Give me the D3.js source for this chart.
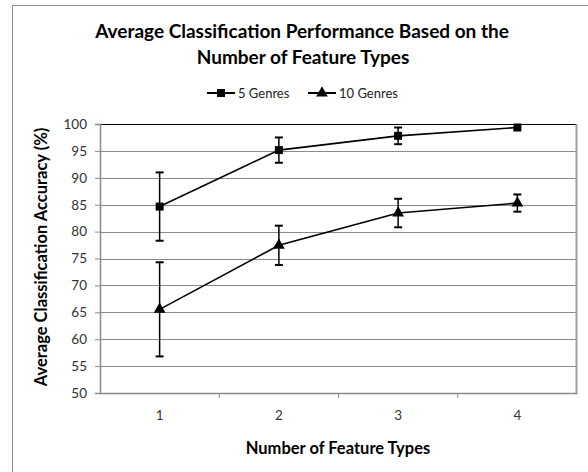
<!DOCTYPE html>
<html>
<head>
  <script src="https://d3js.org/d3.v7.min.js"></script>
  <style>
    body { margin: 0; background: #fff; }
    svg text { font-family: Lato, "Open Sans", sans-serif; fill: #000; }
    .title { font-size: 19px; font-weight: bold; text-anchor: middle; }
    .axis-title { font-size: 16.5px; font-weight: bold; text-anchor: middle; }
    .tick-label { font-size: 13.5px; fill: #333; }
    .legend-label { font-size: 13px; fill: #222; }
  </style>
</head>
<body>
  <div id="chart"></div>
  <script>
    // values
    const categories = ["1", "2", "3", "4"];
    const yTicks = [50, 55, 60, 65, 70, 75, 80, 85, 90, 95, 100];
    const genres5 = [84.65, 95.15, 97.8, 99.35];
    const genres5Err = [6.35, 2.35, 1.55, 0];
    const genres10 = [65.55, 77.45, 83.45, 85.3];
    const genres10Err = [8.75, 3.65, 2.65, 1.6];

    const series = [
      { name: "5 Genres", values: genres5, err: genres5Err, marker: d3.symbolSquare, size: 64 },
      { name: "10 Genres", values: genres10, err: genres10Err, marker: d3.symbolTriangle, size: 60 }
    ];

    const width = 588, height = 472;
    const margin = { top: 124, right: 11, bottom: 79, left: 100 };
    const innerW = width - margin.left - margin.right;
    const innerH = height - margin.top - margin.bottom;

    const svg = d3.select("#chart").append("svg")
      .attr("width", width)
      .attr("height", height);

    // outer chart frame
    svg.append("rect")
      .attr("x", 12.5).attr("y", 5.5)
      .attr("width", 590).attr("height", 480)
      .attr("fill", "none").attr("stroke", "#8c8c8c");

    const g = svg.append("g").attr("transform", `translate(${margin.left},${margin.top})`);

    const x = d3.scaleBand().domain(categories).range([0, innerW]);
    const y = d3.scaleLinear().domain([50, 100]).range([innerH, 0]);

    // gridlines
    g.selectAll(".grid").data(yTicks.filter(v => v > 50)).enter()
      .append("line")
      .attr("x1", 0).attr("x2", innerW)
      .attr("y1", d => Math.round(y(d)) + 0.5).attr("y2", d => Math.round(y(d)) + 0.5)
      .attr("stroke", d => d === 100 ? "#000" : "#8a8a8a")
      .attr("stroke-width", 1);

    // right plot border
    g.append("line")
      .attr("x1", innerW - 0.5).attr("x2", innerW - 0.5)
      .attr("y1", 0).attr("y2", innerH)
      .attr("stroke", "#a0a0a0").attr("stroke-width", 2);

    // y axis
    const yAxis = g.append("g")
      .call(d3.axisLeft(y).tickValues(yTicks).tickSize(5).tickPadding(8));
    yAxis.select(".domain").attr("stroke", "#8a8a8a").attr("stroke-width", 1.5);
    yAxis.selectAll(".tick line").attr("stroke", "#8a8a8a");
    yAxis.selectAll(".tick text").attr("class", "tick-label");

    // x axis
    const xAxis = g.append("g")
      .attr("transform", `translate(0,${innerH})`)
      .call(d3.axisBottom(x).tickSize(0).tickPadding(17));
    xAxis.select(".domain").attr("stroke", "#8a8a8a").attr("stroke-width", 1.5);
    xAxis.selectAll(".tick text").attr("class", "tick-label");
    // tick marks between categories
    g.selectAll(".xsep").data(categories.slice(1)).enter()
      .append("line")
      .attr("x1", d => x(d)).attr("x2", d => x(d))
      .attr("y1", innerH).attr("y2", innerH + 5)
      .attr("stroke", "#8a8a8a");

    const cx = (d, i) => x(categories[i]) + x.bandwidth() / 2;
    const line = d3.line().x((d, i) => cx(d, i)).y(d => y(d));

    series.forEach(s => {
      g.append("path")
        .datum(s.values)
        .attr("d", line)
        .attr("fill", "none")
        .attr("stroke", "#000")
        .attr("stroke-width", 1.6);

      // error bars
      const eb = g.append("g");
      s.values.forEach((v, i) => {
        if (!s.err[i]) return;
        const px = cx(v, i);
        const y0 = y(v - s.err[i]), y1 = y(v + s.err[i]);
        eb.append("line").attr("x1", px).attr("x2", px).attr("y1", y0).attr("y2", y1)
          .attr("stroke", "#000").attr("stroke-width", 1.5);
        [y0, y1].forEach(yy => {
          eb.append("line").attr("x1", px - 4).attr("x2", px + 4).attr("y1", yy).attr("y2", yy)
            .attr("stroke", "#000").attr("stroke-width", 2);
        });
      });

      g.selectAll(null).data(s.values).enter()
        .append("path")
        .attr("d", d3.symbol().type(s.marker).size(s.size))
        .attr("transform", (d, i) => `translate(${cx(d, i)},${y(d)})`)
        .attr("fill", "#000");
    });

    // title
    svg.append("text").attr("class", "title").attr("x", 302).attr("y", 38)
      .text("Average Classification Performance Based on the");
    svg.append("text").attr("class", "title").attr("x", 303).attr("y", 64)
      .text("Number of Feature Types");

    // legend
    const legendPos = [207, 308];
    series.forEach((s, i) => {
      const lg = svg.append("g").attr("transform", `translate(${legendPos[i]},93)`);
      lg.append("line").attr("x1", 0).attr("x2", 28).attr("y1", 0).attr("y2", 0)
        .attr("stroke", "#000").attr("stroke-width", 2);
      lg.append("path").attr("d", d3.symbol().type(s.marker).size(s.size))
        .attr("transform", "translate(14,0)").attr("fill", "#000");
      lg.append("text").attr("class", "legend-label").attr("x", 31).attr("y", 4.5).text(s.name);
    });

    // axis titles
    svg.append("text").attr("class", "axis-title")
      .attr("transform", "translate(47,257) rotate(-90)")
      .text("Average Classification Accuracy (%)");
    svg.append("text").attr("class", "axis-title")
      .attr("x", 338).attr("y", 454)
      .text("Number of Feature Types");
  </script>
</body>
</html>
